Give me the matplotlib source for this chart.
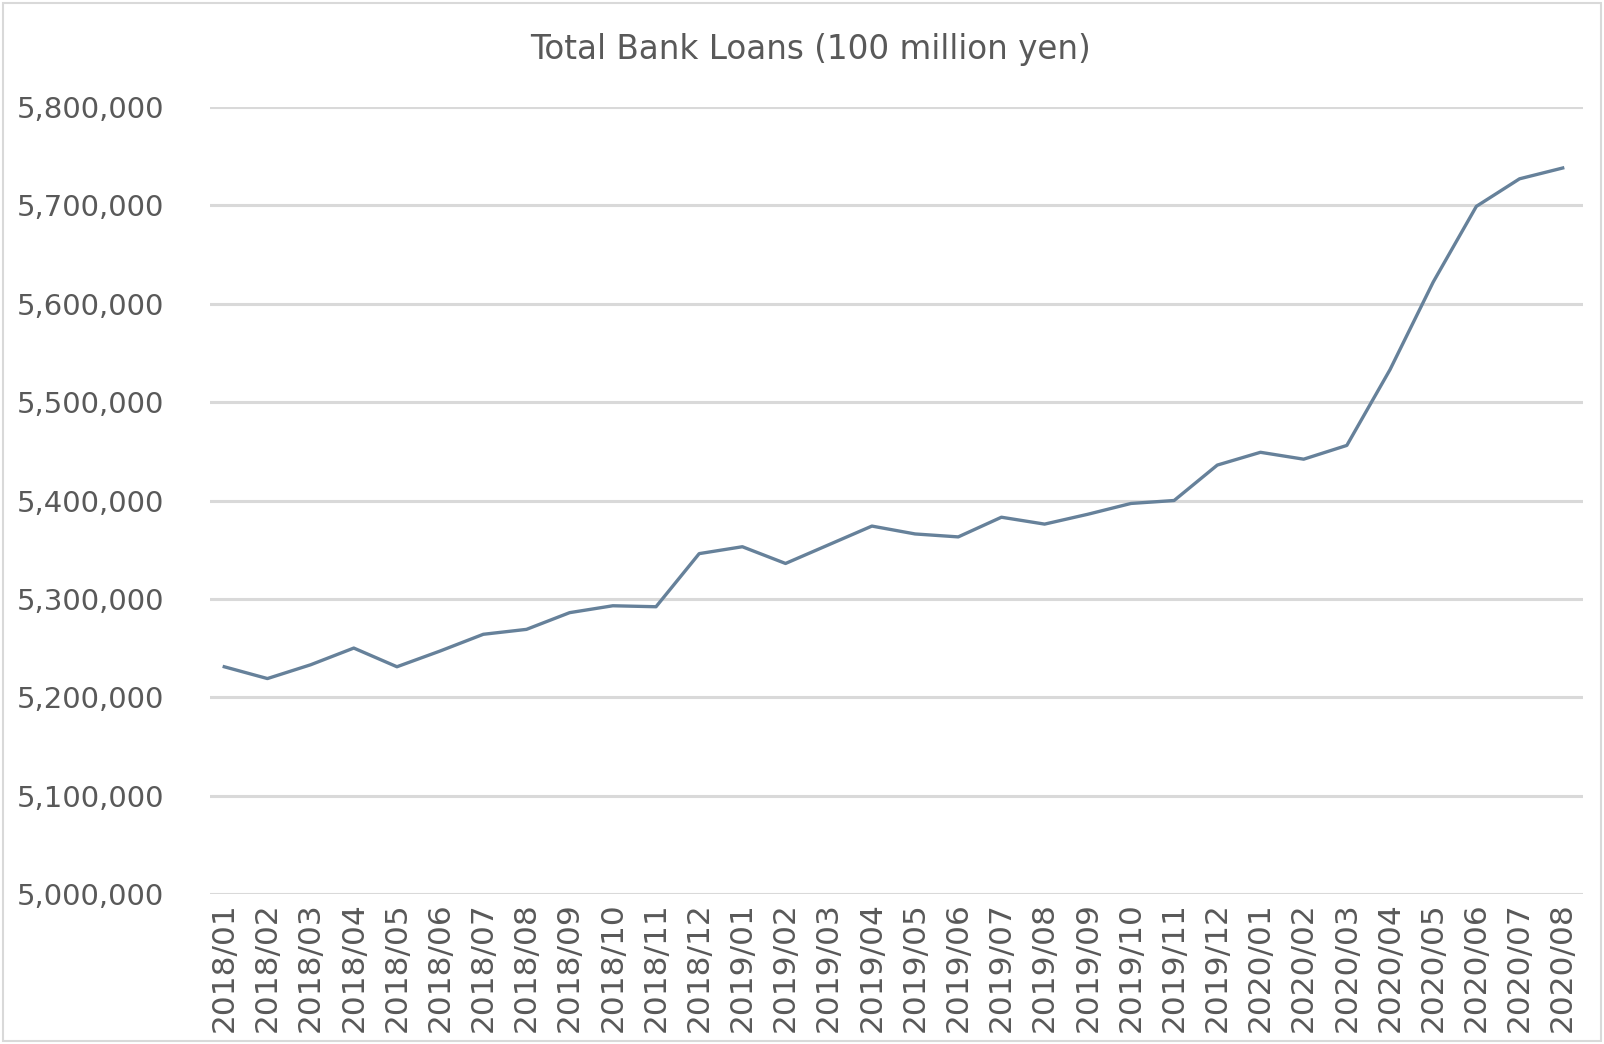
import matplotlib
matplotlib.use("Agg")
import matplotlib.pyplot as plt
from matplotlib.ticker import FuncFormatter, MultipleLocator
from matplotlib.patches import Rectangle

# Monthly totals of bank loans (unit: 100 million yen)
months = [
    "2018/01", "2018/02", "2018/03", "2018/04", "2018/05", "2018/06",
    "2018/07", "2018/08", "2018/09", "2018/10", "2018/11", "2018/12",
    "2019/01", "2019/02", "2019/03", "2019/04", "2019/05", "2019/06",
    "2019/07", "2019/08", "2019/09", "2019/10", "2019/11", "2019/12",
    "2020/01", "2020/02", "2020/03", "2020/04", "2020/05", "2020/06",
    "2020/07", "2020/08",
]
loans = [
    5231000, 5219000, 5233000, 5250000, 5231000, 5247000,
    5264000, 5269000, 5286000, 5293000, 5292000, 5346000,
    5353000, 5336000, 5355000, 5374000, 5366000, 5363000,
    5383000, 5376000, 5386000, 5397000, 5400000, 5436000,
    5449000, 5442000, 5456000, 5533000, 5622000, 5699000,
    5727000, 5738000,
]
y_min, y_max, y_step = 5000000, 5800000, 100000
title = "Total Bank Loans (100 million yen)"

text_color = "#595959"
grid_color = "#d9d9d9"
line_color = "#66819a"
font = "DejaVu Sans"

W, H = 1604, 1044
fig = plt.figure(figsize=(W / 100, H / 100), dpi=100)
fig.patch.set_facecolor("white")

# chart-area border
fig.add_artist(Rectangle((3 / W, 3 / H), 1 - 6 / W, 1 - 6 / H,
                         transform=fig.transFigure, fill=False,
                         edgecolor=grid_color, linewidth=1.5))

ax = fig.add_axes([210 / W, 150 / H, 1373 / W, 787 / H])
x = list(range(len(months)))
ax.plot(x, loans, color=line_color, linewidth=2.4, solid_joinstyle="round",
        zorder=3)

ax.set_ylim(y_min, y_max)
ax.set_xlim(-0.33, len(months) - 1 + 0.47)
ax.yaxis.set_major_locator(MultipleLocator(y_step))
ax.yaxis.set_major_formatter(FuncFormatter(lambda v, p: f"{int(v):,}"))
ax.grid(axis="y", color=grid_color, linewidth=2.2)
ax.set_axisbelow(True)

ax.set_xticks(x)
ax.set_xticklabels(months, rotation=90, fontsize=22.5, color=text_color,
                   family=font)
for lbl in ax.get_yticklabels():
    lbl.set_fontsize(21)
    lbl.set_color(text_color)
    lbl.set_family(font)
ax.tick_params(axis="both", length=0)
ax.tick_params(axis="y", pad=33)
ax.tick_params(axis="x", pad=6)
for s in ax.spines.values():
    s.set_visible(False)

fig.text(810 / W, 1 - 49 / H, title, ha="center", va="center",
         fontsize=23.5, color=text_color, family=font)

fig.savefig("out.png", dpi=100, facecolor="white")
